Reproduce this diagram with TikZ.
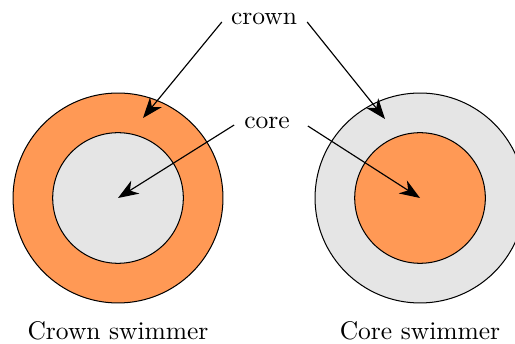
\documentclass[tikz,border=0pt]{standalone}
\usetikzlibrary{arrows.meta,calc}
\definecolor{ringorange}{RGB}{255,153,85}
\definecolor{ringgray}{RGB}{229,229,229}
\begin{document}
\begin{tikzpicture}[x=0.392pt,y=-0.392pt,
  ring/.style={circle,draw=black,line width=0.4pt,inner sep=0pt},
  lbl/.style={inner sep=3pt,font=\normalsize},
  arr/.style={-{Stealth[length=8pt,width=6pt,inset=2.5pt]},line width=0.45pt}]
\useasboundingbox (0,0) rectangle (515,344);
\begin{scope}
\clip (0,0) rectangle (515,344);
% left swimmer
\node[ring,fill=ringorange,minimum size=82.3pt] (lo) at (118,198) {};
\node[ring,fill=ringgray,minimum size=51.2pt] (li) at (118,198) {};
% right swimmer
\node[ring,fill=ringgray,minimum size=82.3pt] (ro) at (420,198) {};
\node[ring,fill=ringorange,minimum size=51.2pt] (ri) at (420,198) {};
\end{scope}
\coordinate (lt) at (143,118);
\coordinate (rt) at (385,119);
\node[lbl] (crown) at (264,19) {crown};
\node[lbl] (core) at (267,123) {core};
\node[lbl] (lname) at (118,331) {Crown swimmer};
\node[lbl] (rname) at (420,331) {Core swimmer};
\draw[arr] ($(crown.west)+(-1,3)$) -- (lt);
\draw[arr] ($(crown.east)+(2,3)$) -- (rt);
\draw[arr] ($(core.west)+(-2,2)$) -- (li.center);
\draw[arr] ($(core.east)+(10,3)$) -- (ri.center);
\end{tikzpicture}
\end{document}
